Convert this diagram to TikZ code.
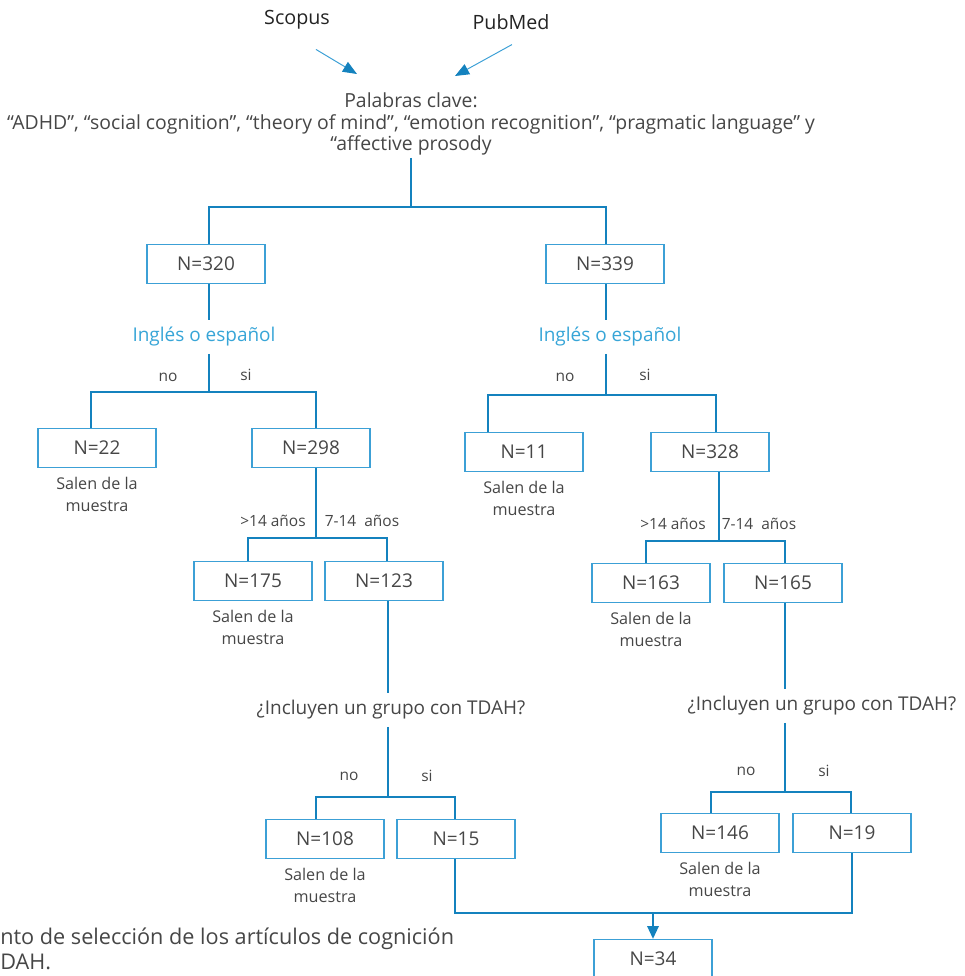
\documentclass[tikz,border=0pt]{standalone}
\usepackage{fontspec}
\setmainfont{Open Sans}
\usetikzlibrary{arrows.meta, positioning}
\definecolor{linkblue}{RGB}{20,130,190}
\definecolor{boxblue}{RGB}{60,160,214}
\definecolor{askblue}{RGB}{55,165,215}
\definecolor{textgray}{RGB}{70,70,70}
\definecolor{srcgray}{RGB}{35,35,35}

\begin{document}
\begin{tikzpicture}[x=0.025cm,y=-0.025cm,node distance=1.16cm,
 >={Triangle[length=9pt,width=8pt]},
 link/.style={draw=linkblue,line width=1.4pt},
 feed/.style={-{Triangle[length=10pt,width=8pt,color=linkblue]},draw=boxblue,line width=0.7pt},
 count node/.style={draw=boxblue,line width=0.9pt,minimum width=2.95cm,
   minimum height=0.975cm,inner sep=0pt,text=textgray,font=\fontsize{13.5}{16}\selectfont},
 out node/.style={align=center,text=textgray,inner sep=0pt,font=\fontsize{11.5}{16}\selectfont},
 ask node/.style={text=askblue,inner sep=5pt,font=\fontsize{13.5}{16}\selectfont},
 quest node/.style={text=textgray,inner sep=5pt,font=\fontsize{13.5}{16}\selectfont},
 tag node/.style={text=textgray,inner sep=0pt,font=\fontsize{11}{13}\selectfont},
 src node/.style={text=srcgray,font=\fontsize{14}{16}\selectfont},
 key node/.style={align=center,text=textgray,inner sep=2pt,font=\fontsize{13.8}{15}\selectfont},
 cap node/.style={anchor=west,inner sep=0pt,text=textgray,font=\fontsize{15.4}{17}\selectfont}]
  \useasboundingbox (0,0) rectangle (965,976);

  % sources and key words
  \node[src node] (scopus) at (297,20) {Scopus};
  \node[src node] (pubmed) at (511,22) {PubMed};
  \node[key node] (kw) at (411,124) {Palabras clave:\\“ADHD”, “social cognition”, “theory of mind”, “emotion recognition”, “pragmatic language” y\\“affective prosody};
  \coordinate (kwin1) at (357,74);
  \coordinate (kwin2) at (455,76);
  \draw[feed] ([shift={(19,15)}]scopus.south) -- (kwin1);
  \draw[feed] ([shift={(1,10)}]pubmed.south) -- (kwin2);

  % first split
  \node[count node] (n320) at (206,264) {N=320};
  \node[count node] (n339) at (605,264) {N=339};
  \node[ask node] (lang1) at (204,337) {Inglés o español};
  \node[ask node] (lang2) at (610,337) {Inglés o español};
  \node[tag node] (no1) at (168,377) {no};
  \node[tag node] (si1) at (246,375) {si};
  \node[tag node] (no2) at (565,377) {no};
  \node[tag node] (si2) at (645,375) {si};

  % language
  \node[count node] (n22) at (97,448) {N=22};
  \node[out node] (s22) [below of=n22] {Salen de la\\muestra};
  \node[count node] (n298) at (311,448) {N=298};
  \node[count node] (n11) at (524,452) {N=11};
  \node[out node] (s11) [below of=n11] {Salen de la\\muestra};
  \node[count node] (n328) at (710,452) {N=328};
  \node[tag node] (old1) at (273,521) {>14 años};
  \node[tag node] (young1) at (362,521) {7-14\ \ años};
  \node[tag node] (old2) at (673,524) {>14 años};
  \node[tag node] (young2) at (759,524) {7-14\ \ años};

  % age
  \node[count node] (n175) at (253,581) {N=175};
  \node[out node] (s175) [below of=n175] {Salen de la\\muestra};
  \node[count node] (n123) at (384,581) {N=123};
  \node[count node] (n163) at (651,583) {N=163};
  \node[out node] (s163) [below of=n163] {Salen de la\\muestra};
  \node[count node] (n165) at (783,583) {N=165};
  \node[quest node] (q1) at (391,710) {¿Incluyen un grupo con TDAH?};
  \node[quest node] (q2) at (822,706) {¿Incluyen un grupo con TDAH?};
  \node[tag node] (no3) at (349,776) {no};
  \node[tag node] (si3) at (427,776) {si};
  \node[tag node] (no4) at (746,771) {no};
  \node[tag node] (si4) at (824,771) {si};

  % TDAH group
  \node[count node] (n108) at (325,839) {N=108};
  \node[out node] (s108) [below of=n108] {Salen de la\\muestra};
  \node[count node] (n15) at (456,839) {N=15};
  \node[count node] (n146) at (720,833) {N=146};
  \node[out node] (s146) [below of=n146] {Salen de la\\muestra};
  \node[count node] (n19) at (852,833) {N=19};
  \node[count node] (n34) at (653,959) {N=34};

  \node[cap node] (cap1) at (0,939) {nto de selección de los artículos de cognición};
  \node[cap node] (cap2) at (0,962) {DAH.};

  % branches
  \foreach \y/\xl/\xr/\cl/\cr in {207/209/606/n320/n339, 392/91/316/n22/n298,
      538/248/387/n175/n123, 797/316/455/n108/n15, 395/488/716/n11/n328,
      541/646/785/n163/n165, 792/711/851/n146/n19}
    \draw[link] (\xl,0 |- \cl.north) |- (\xr,\y) -- (\xr,0 |- \cr.north);

  \draw[link] (kw) -- (411,207);
  \draw[link] (209,0 |- n320.south) -- (209,0 |- lang1.north);
  \draw[link] (209,0 |- lang1.south) -- (209,392);
  \draw[link] (316,0 |- n298.south) -- (316,538);
  \draw[link] (388,0 |- n123.south) -- (388,0 |- q1.north);
  \draw[link] (388,0 |- q1.south) -- (388,797);
  \draw[link] (606,0 |- n339.south) -- (606,0 |- lang2.north);
  \draw[link] (606,0 |- lang2.south) -- (606,395);
  \draw[link] (719,0 |- n328.south) -- (719,541);
  \draw[link] (785,0 |- n165.south) -- (785,0 |- q2.north);
  \draw[link] (785,0 |- q2.south) -- (785,792);
  \draw[link] (455,0 |- n15.south) |- (852,913) -- (852,0 |- n19.south);
  \draw[link,->] (653,913) -- (n34);
\end{tikzpicture}
\end{document}
